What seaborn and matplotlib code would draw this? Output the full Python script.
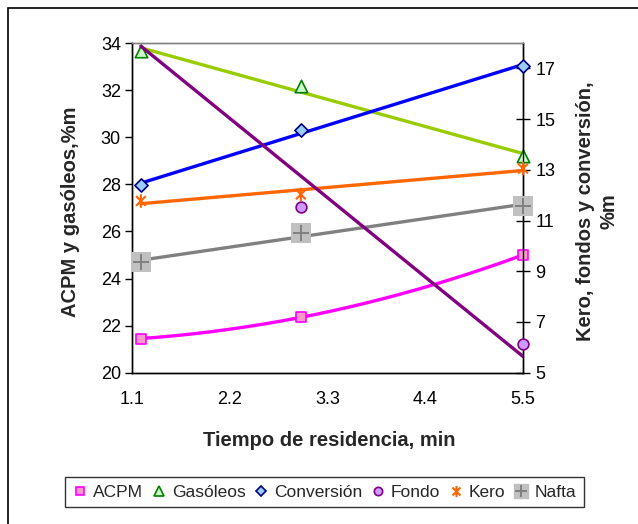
import numpy as np
import pandas as pd
import matplotlib
matplotlib.use("Agg")
import matplotlib.pyplot as plt
import seaborn as sns
from matplotlib.lines import Line2D
from matplotlib.patches import Rectangle
from matplotlib.path import Path

# ---- data ----
tiempo = [1.2, 3.0, 5.5]
acpm = [21.45, 22.35, 25.0]          # left axis
gasoleos = [33.65, 32.17, 29.2]      # left axis
conversion = [12.39, 14.58, 17.09]   # right axis
fondo = [18.58, 11.54, 6.15]         # right axis
kero = [11.77, 12.03, 13.05]         # right axis
nafta = [9.35, 10.51, 11.58]         # right axis
x_ticks = [1.1, 2.2, 3.3, 4.4, 5.5]
left_ticks = [20, 22, 24, 26, 28, 30, 32, 34]
right_ticks = [5, 7, 9, 11, 13, 15, 17]

sns.set_style("white")
plt.rcParams["font.family"] = ["Liberation Sans", "DejaVu Sans"]

fig = plt.figure(figsize=(6.38, 5.24), dpi=100)
W, H = 638, 524
ax = fig.add_axes([132 / W, 1 - 372.7 / H, (523 - 132) / W, (372.7 - 43) / H])
ax2 = ax.twinx()

x = np.array(tiempo)
xs = np.linspace(x.min(), x.max(), 200)

# Excel-like "star" marker: an x with a vertical bar
d = 0.72
star = Path([(0, -1), (0, 1), (-d, -d), (d, d), (-d, d), (d, -d)],
            [Path.MOVETO, Path.LINETO] * 3)

def trend(axis, y, color, deg=1, z=2):
    coef = np.polyfit(x, np.array(y), deg)
    sns.lineplot(x=xs, y=np.polyval(coef, xs), ax=axis, color=color, lw=2.4,
                 zorder=z, legend=False)

# left-axis series
trend(ax, acpm, "#FF00FF", deg=2)
trend(ax, gasoleos, "#99CC00")
sns.scatterplot(x=x, y=acpm, ax=ax, marker="s", s=55, facecolor="#FF99CC",
                edgecolor="#FF00FF", linewidth=1.2, zorder=5, legend=False, clip_on=False)
sns.scatterplot(x=x, y=gasoleos, ax=ax, marker="^", s=80, facecolor="#CCFFCC",
                edgecolor="#008000", linewidth=1.2, zorder=5, legend=False, clip_on=False)

# right-axis series
trend(ax2, conversion, "#0000FF")
trend(ax2, kero, "#FF6600")
trend(ax2, nafta, "#808080")
trend(ax2, fondo, "#800080", z=3)
sns.scatterplot(x=x, y=conversion, ax=ax2, marker="D", s=45, facecolor="#99CCFF",
                edgecolor="#000080", linewidth=1.2, zorder=5, legend=False, clip_on=False)
sns.scatterplot(x=x, y=fondo, ax=ax2, marker="o", s=60, facecolor="#CC99FF",
                edgecolor="#800080", linewidth=1.2, zorder=5, legend=False)
# points beyond the axis limits are hidden, but edge markers are not cut in half
ax2.collections[-1].set_clip_path(Rectangle((-0.1, 0), 1.2, 1, transform=ax2.transAxes))
sns.scatterplot(x=x, y=kero, ax=ax2, marker=star, s=95, facecolor="none",
                edgecolor="#FF6600", linewidth=1.5, zorder=5, legend=False, clip_on=False)
sns.scatterplot(x=x, y=nafta, ax=ax2, marker="s", s=190, color="#C0C0C0",
                linewidth=0, zorder=4, legend=False, clip_on=False)
sns.scatterplot(x=x, y=nafta, ax=ax2, marker="+", s=120, color="#808080",
                linewidth=1.4, zorder=5, legend=False, clip_on=False)

# axes formatting
ax.set_xlim(1.1, 5.5)
ax.set_ylim(20, 34)
ax2.set_ylim(5, 18)
ax.set_xticks(x_ticks)
ax.set_xticklabels([f"{v:.1f}" for v in x_ticks])
ax.set_yticks(left_ticks)
ax2.set_yticks(right_ticks)
ax.set_xlabel("")
ax.set_ylabel("")
ax2.set_ylabel("")
for a in (ax, ax2):
    for s in a.spines.values():
        s.set_linewidth(1.0)
        s.set_color("black")
    a.spines["top"].set_color("#808080")
ax.tick_params(axis="both", labelsize=13, length=5, width=1, direction="out",
               colors="black", pad=3)
ax.tick_params(axis="x", pad=8)
ax2.tick_params(axis="y", labelsize=13, length=10, width=1, direction="inout",
                colors="black", pad=4)
ax.set_facecolor("white")

# axis titles
fig.text(329 / W, 1 - 440 / H, "Tiempo de residencia, min", ha="center", va="center",
         fontsize=14.5, fontweight="bold")
fig.text(70 / W, 1 - 212 / H, "ACPM y gasóleos,%m", ha="center", va="center",
         rotation=90, fontsize=14.5, fontweight="bold")
fig.text(597 / W, 1 - 211 / H, "Kero, fondos y conversión,\n%m", ha="center",
         va="center", rotation=90, fontsize=14.5, fontweight="bold",
         linespacing=1.3, multialignment="center")

# outer chart border
fig.patches.append(Rectangle((8 / W, -1), 2, 1 - 8 / H + 1, transform=fig.transFigure,
                             fill=False, edgecolor="black", lw=1.2, zorder=0))

# legend
handles = [
    Line2D([], [], ls="none", marker="s", ms=6, mfc="#FF99CC", mec="#FF00FF", mew=1.2),
    Line2D([], [], ls="none", marker="^", ms=7, mfc="#CCFFCC", mec="#008000", mew=1.2),
    Line2D([], [], ls="none", marker="D", ms=5.5, mfc="#99CCFF", mec="#000080", mew=1.2),
    Line2D([], [], ls="none", marker="o", ms=6, mfc="#CC99FF", mec="#800080", mew=1.2),
    Line2D([], [], ls="none", marker=star, ms=8, color="#FF6600", mec="#FF6600", mew=1.5),
    (Line2D([], [], ls="none", marker="s", ms=10, mfc="#C0C0C0", mec="#C0C0C0"),
     Line2D([], [], ls="none", marker="+", ms=9, color="#808080", mew=1.4)),
]
labels = ["ACPM", "Gasóleos", "Conversión", "Fondo", "Kero", "Nafta"]
leg = fig.legend(handles, labels, loc="center", bbox_to_anchor=(324.5 / W, 1 - 492 / H),
                 ncol=6, frameon=True, fancybox=False, edgecolor="black",
                 fontsize=12.5, handlelength=0.8, handletextpad=0.35,
                 columnspacing=0.5, borderpad=0.45, borderaxespad=0)
leg.get_frame().set_linewidth(1.0)

fig.savefig("out.png", dpi=100, facecolor="white")
